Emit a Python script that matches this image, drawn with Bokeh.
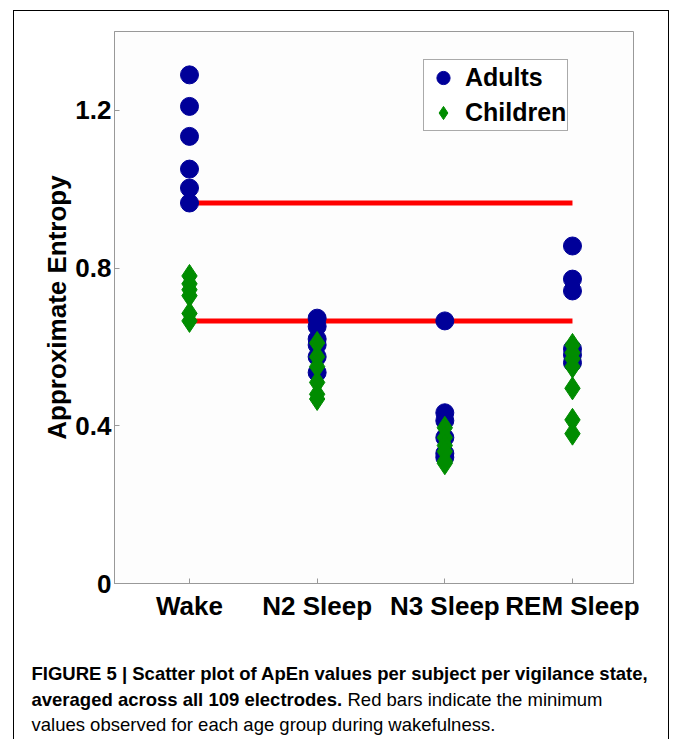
from bokeh.plotting import figure
from bokeh.layouts import column
from bokeh.models import (Range1d, FixedTicker, Legend, LegendItem, Label,
                          ColumnDataSource)
from bokeh.embed import file_html
from bokeh.resources import INLINE

# ---------------- data ----------------
states = ["Wake", "N2 Sleep", "N3 Sleep", "REM Sleep"]
state_pos = [1, 2, 3, 4]

adults_wake = [1.290, 1.210, 1.134, 1.051, 1.003, 0.965]
adults_n2 = [0.673, 0.652, 0.620, 0.605, 0.575, 0.535]
adults_n3 = [0.666, 0.433, 0.413, 0.370, 0.330, 0.320]
adults_rem = [0.856, 0.772, 0.742, 0.595, 0.580, 0.560]

children_wake = [0.780, 0.760, 0.745, 0.730, 0.685, 0.666]
children_n2 = [0.610, 0.575, 0.550, 0.510, 0.480, 0.468]
children_n3 = [0.395, 0.370, 0.350, 0.335, 0.310, 0.305]
children_rem = [0.605, 0.585, 0.570, 0.550, 0.495, 0.415, 0.380]

y_ticks = [0, 0.4, 0.8, 1.2]
y_tick_labels = ["0", "0.4", "0.8", "1.2"]

caption_line1 = "FIGURE 5 | Scatter plot of ApEn values per subject per vigilance state,"
caption_line2_bold = "averaged across all 109 electrodes."
caption_line2_rest = "Red bars indicate the minimum"
caption_line3 = "values observed for each age group during wakefulness."

# ---------------- build sources ----------------
adult_groups = [adults_wake, adults_n2, adults_n3, adults_rem]
child_groups = [children_wake, children_n2, children_n3, children_rem]

ax, ay = [], []
for pos, vals in zip(state_pos, adult_groups):
    ax += [pos] * len(vals)
    ay += vals
cx, cy = [], []
for pos, vals in zip(state_pos, child_groups):
    cx += [pos] * len(vals)
    cy += vals

adult_src = ColumnDataSource(dict(x=ax, y=ay))
child_src = ColumnDataSource(dict(x=cx, y=cy))
min_src = ColumnDataSource(dict(
    x0=[state_pos[0], state_pos[0]],
    x1=[state_pos[-1], state_pos[-1]],
    y=[min(adults_wake), min(children_wake)],
))

FONT = "Liberation Sans"
AXIS_GREY = "#999999"
CW = 654          # content width inside the outer frame
CHART_H = 639
CAP_H = 89

p = figure(width=CW, height=CHART_H, output_backend="svg", toolbar_location=None,
           x_range=Range1d(0.4126, 4.478), y_range=Range1d(0, 1.4),
           min_border_left=100, min_border_right=35,
           min_border_top=20, min_border_bottom=67)

p.background_fill_color = "#fdfdfd"
p.border_fill_color = "white"
p.outline_line_color = AXIS_GREY
p.outline_line_width = 1
p.grid.visible = False

# axes
p.xaxis.ticker = FixedTicker(ticks=state_pos)
p.xaxis.major_label_overrides = {pos: lab for pos, lab in zip(state_pos, states)}
p.yaxis.ticker = FixedTicker(ticks=y_ticks)
p.yaxis.major_label_overrides = {t: lab for t, lab in zip(y_ticks, y_tick_labels)}
for axis in (p.xaxis, p.yaxis):
    axis.axis_line_color = AXIS_GREY
    axis.major_tick_line_color = AXIS_GREY
    axis.major_tick_in = 5
    axis.major_tick_out = 0
    axis.minor_tick_line_color = None
    axis.major_label_text_font = FONT
    axis.major_label_text_font_style = "bold"
    axis.major_label_text_font_size = "26px"
    axis.major_label_text_color = "black"
p.xaxis.major_label_standoff = 7
p.yaxis.major_label_standoff = 3
p.yaxis.axis_label = "Approximate Entropy"
p.yaxis.axis_label_text_font = FONT
p.yaxis.axis_label_text_font_style = "bold"
p.yaxis.axis_label_text_font_size = "26px"
p.yaxis.axis_label_text_color = "black"
p.yaxis.axis_label_standoff = 0

# red minimum bars
p.segment(x0="x0", x1="x1", y0="y", y1="y", source=min_src,
          line_color="#ff0000", line_width=5)

r_adult = p.scatter("x", "y", source=adult_src, marker="circle", size=18,
                    fill_color="#000099", line_color="#000099")
r_child = p.scatter("x", "y", source=child_src, marker="diamond", size=23,
                    fill_color="#008c00", line_color="#008c00")

legend = Legend(items=[LegendItem(label="Adults", renderers=[r_adult]),
                       LegendItem(label="Children", renderers=[r_child])],
                location=(309, 452), orientation="vertical",
                padding=1, spacing=2, margin=0,
                glyph_height=33, glyph_width=36, label_standoff=4,
                label_text_font=FONT, label_text_font_style="bold",
                label_text_font_size="25px", label_text_color="black",
                border_line_color="#555555", border_line_width=1,
                background_fill_color="white", background_fill_alpha=1)
p.add_layout(legend)

# caption figure (text only)
cap = figure(width=CW, height=CAP_H, output_backend="svg", toolbar_location=None,
             x_range=Range1d(0, 1), y_range=Range1d(0, 1),
             x_axis_type=None, y_axis_type=None,
             min_border=0, min_border_left=0, min_border_right=0,
             min_border_top=0, min_border_bottom=0)
cap.outline_line_color = None
cap.grid.visible = False
cap.background_fill_color = "white"
cap.border_fill_color = "white"

for fig in (p, cap):
    if "frame_align" in fig.properties():
        fig.frame_align = False

cap_kw = dict(x_units="screen", y_units="screen", text_font=FONT,
              text_font_size="18.5px", text_color="black",
              text_baseline="alphabetic", text_align="left")
cap.add_layout(Label(x=17, y=66, text=caption_line1, text_font_style="bold", **cap_kw))
cap.add_layout(Label(x=17, y=40, text=caption_line2_bold, text_font_style="bold", **cap_kw))
cap.add_layout(Label(x=333, y=40, text=caption_line2_rest, text_font_style="normal", **cap_kw))
cap.add_layout(Label(x=17, y=15, text=caption_line3, text_font_style="normal", **cap_kw))

layout = column(p, cap, spacing=0, margin=(10, 0, 0, 13),
                styles={"border-left": "1px solid black",
                        "border-top": "1px solid black",
                        "border-right": "1px solid black"})

open("out.html", "w").write(file_html(layout, INLINE))
